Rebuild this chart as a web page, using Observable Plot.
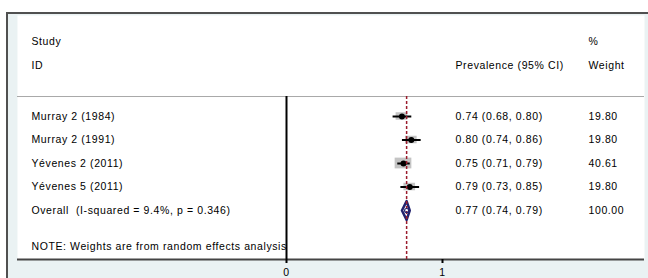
<!DOCTYPE html>
<html><head><meta charset="utf-8">
<script src="https://cdn.jsdelivr.net/npm/d3@7"></script>
<script src="https://cdn.jsdelivr.net/npm/@observablehq/plot@0.6"></script>
<style>
html,body{margin:0;padding:0;background:#fff;}
#wrap{position:relative;width:648px;height:278px;overflow:hidden;}
#bg{position:absolute;left:6px;top:12px;width:644px;height:268px;background:#eaf2f3;border-left:2px solid #505050;border-top:2px solid #505050;}
#chart{position:absolute;left:0;top:0;}
#chart svg text{letter-spacing:0.6px;}
</style></head>
<body><div id="wrap"><div id="bg"></div><div id="chart"></div></div>
<script>
// ---- data ----
const studies = ["Murray 2 (1984)", "Murray 2 (1991)", "Yévenes 2 (2011)", "Yévenes 5 (2011)"];
const estimates = [0.74, 0.80, 0.75, 0.79];
const lower = [0.68, 0.74, 0.71, 0.73];
const upper = [0.80, 0.86, 0.79, 0.85];
const weights = [19.80, 19.80, 40.61, 19.80];
const overallLabel = "Overall  (I-squared = 9.4%, p = 0.346)";
const overallEstimate = 0.77, overallLower = 0.74, overallUpper = 0.79, overallWeight = 100.00;
const headerLeft = ["Study", "ID"];
const headerMid = ["", "Prevalence (95% CI)"];
const headerRight = ["%", "Weight"];
const note = "NOTE: Weights are from random effects analysis";
const xTicks = [0, 1];

// ---- layout in row units ----
const headerRows = [-3.2, -2.18];
const dividerRow = -0.85;
const noteRow = 5.53;
const yDomain = [-4.298, 6.085];
const xDomain = [-1.7244, 2.2949];

const fmt = d3.format(".2f");
const rows = studies.map((s, i) => ({
  label: s, row: i, es: estimates[i], lo: lower[i], hi: upper[i], w: weights[i],
  text: `${fmt(estimates[i])} (${fmt(lower[i])}, ${fmt(upper[i])})`, wtext: fmt(weights[i])
}));
const oRow = studies.length;
const overall = {label: overallLabel, row: oRow, es: overallEstimate,
  text: `${fmt(overallEstimate)} (${fmt(overallLower)}, ${fmt(overallUpper)})`, wtext: fmt(overallWeight)};
const textRows = [...rows, overall];
const hx = 0.0084, hy = 0.036;
const boxes = rows.map(d => ({x1: d.es - hx*Math.sqrt(d.w), x2: d.es + hx*Math.sqrt(d.w),
  y1: d.row - hy*Math.sqrt(d.w), y2: d.row + hy*Math.sqrt(d.w)}));
const dh = 0.4;
const diamond = [
  {x: overallLower, y: oRow}, {x: overallEstimate, y: oRow - dh},
  {x: overallUpper, y: oRow}, {x: overallEstimate, y: oRow + dh}, {x: overallLower, y: oRow}
];
const headers = headerLeft.map((t, i) => ({a: t, b: headerMid[i], c: headerRight[i], row: headerRows[i]}));

const font = "Liberation Sans, Arial, sans-serif";
const fs = 10.5;
const plot = Plot.plot({
  width: 648, height: 278,
  marginLeft: 17, marginRight: 4, marginTop: 15, marginBottom: 19,
  style: {background: "transparent", fontFamily: font, fontSize: fs + "px", color: "#000"},
  x: {domain: xDomain, axis: null},
  y: {domain: yDomain, reverse: true, axis: null},
  marks: [
    Plot.frame({fill: "#fff", stroke: null}),
    Plot.ruleY([dividerRow], {stroke: "#a8a8a8", strokeWidth: 1}),
    Plot.ruleY([yDomain[1]], {stroke: "#444", strokeWidth: 2}),
    Plot.ruleX([0], {y1: dividerRow, y2: yDomain[1], stroke: "#000", strokeWidth: 2}),
    Plot.axisX(xTicks, {tickSize: 4, tickPadding: 5, strokeWidth: 2, stroke: "#000", tickFormat: d3.format("d"), fontSize: fs, fill: "#000"}),
    Plot.rect(boxes, {x1: "x1", x2: "x2", y1: "y1", y2: "y2", fill: "#c4c4c4"}),
    Plot.link(rows, {x1: "lo", x2: "hi", y1: "row", y2: "row", stroke: "#000", strokeWidth: 2}),
    Plot.dot(rows, {x: "es", y: "row", r: 3, fill: "#000", stroke: null}),
    Plot.line(diamond, {x: "x", y: "y", fill: "#fff", stroke: "#22226e", strokeWidth: 2.5}),
    Plot.ruleX([overallEstimate], {y1: dividerRow, y2: yDomain[1], stroke: "#9b1c2c", strokeWidth: 1.5, strokeDasharray: "3,2"}),
    Plot.dot([overall], {x: "es", y: "row", r: 2, fill: "none", stroke: "#22226e", strokeWidth: 1.2}),
    Plot.text(headers, {y: "row", text: "a", frameAnchor: "left", dx: 14, textAnchor: "start", fontSize: fs}),
    Plot.text(headers, {y: "row", text: "b", frameAnchor: "right", dx: -189, textAnchor: "start", fontSize: fs}),
    Plot.text(headers, {y: "row", text: "c", frameAnchor: "right", dx: -56, textAnchor: "start", fontSize: fs}),
    Plot.text(textRows, {y: "row", text: "label", frameAnchor: "left", dx: 14, textAnchor: "start", fontSize: fs}),
    Plot.text(textRows, {y: "row", text: "text", frameAnchor: "right", dx: -189, textAnchor: "start", fontSize: fs}),
    Plot.text(textRows, {y: "row", text: "wtext", frameAnchor: "right", dx: -56, textAnchor: "start", fontSize: fs}),
    Plot.text([note], {y: noteRow, text: d => d, frameAnchor: "left", dx: 14, textAnchor: "start", fontSize: fs})
  ]
});
document.getElementById("chart").appendChild(plot);
</script></body></html>
